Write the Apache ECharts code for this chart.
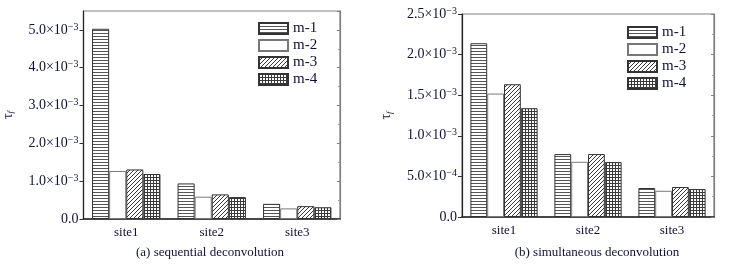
<!DOCTYPE html>
<html><head><meta charset="utf-8">
<script src="https://cdn.jsdelivr.net/npm/echarts@6/dist/echarts.min.js"></script>
<style>html,body{margin:0;padding:0;background:#fff;}#c{width:739px;height:266px;}</style>
</head><body><div id="c"></div>
<script>
const categories = ['site1', 'site2', 'site3'];
const seriesNames = ['m-1', 'm-2', 'm-3', 'm-4'];
// (a) sequential deconvolution
const seqM1 = [5.03e-3, 0.94e-3, 0.40e-3];
const seqM2 = [1.27e-3, 0.59e-3, 0.28e-3];
const seqM3 = [1.31e-3, 0.65e-3, 0.34e-3];
const seqM4 = [1.19e-3, 0.58e-3, 0.31e-3];
// (b) simultaneous deconvolution
const simM1 = [2.14e-3, 0.775e-3, 0.357e-3];
const simM2 = [1.52e-3, 0.68e-3, 0.323e-3];
const simM3 = [1.635e-3, 0.775e-3, 0.369e-3];
const simM4 = [1.34e-3, 0.676e-3, 0.344e-3];
const titleA = '(a) sequential deconvolution';
const titleB = '(b) simultaneous deconvolution';

const FONT = 'Liberation Serif';
const TXT = '#10103a';

function pattern(type) {
  const n = type === 'g' ? 3 : (type === 'h' ? 3 : 4);
  const c = document.createElement('canvas');
  c.width = n; c.height = n;
  const g = c.getContext('2d');
  g.fillStyle = '#fff'; g.fillRect(0, 0, n, n);
  g.fillStyle = '#3a3a3a';
  if (type === 'h') { g.fillStyle = '#555'; g.fillRect(0, 0, n, 1); }
  if (type === 'd') { for (let i = 0; i < n; i++) g.fillRect(i, n - 1 - i, 1, 1); }
  if (type === 'g') { g.fillRect(0, 0, n, 1); g.fillRect(0, 0, 1, n); }
  return { image: c, repeat: 'repeat' };
}
const fills = [pattern('h'), '#ffffff', pattern('d'), pattern('g')];

function fmt(v) {
  if (Math.abs(v) < 1e-12) return '{m|0.0}';
  const s = v.toExponential(1).split('e');
  const e = parseInt(s[1], 10);
  return '{m|' + s[0] + '×10}{s|−' + Math.abs(e) + '}';
}
const richLab = {
  m: { fontFamily: FONT, fontSize: 14, color: TXT, lineHeight: 16 },
  s: { fontFamily: FONT, fontSize: 10, color: TXT, lineHeight: 16, verticalAlign: 'top', padding: [0, 0, 5, 0] }
};
const richName = {
  t: { fontFamily: FONT, fontSize: 14, color: TXT },
  f: { fontFamily: FONT, fontSize: 9, color: TXT, fontStyle: 'italic', padding: [6, 0, 0, 0] }
};

function mainY(grid, max, interval, showMax) {
  return {
    type: 'value', gridIndex: grid, min: 0, max: max, interval: interval,
    name: '{t|τ}{f|f}', nameLocation: 'middle', nameGap: 68,
    nameTextStyle: { rich: richName },
    axisLine: { show: true, lineStyle: { color: '#222', width: 1.2 } },
    axisTick: { show: true, inside: false, length: 4, lineStyle: { color: '#333' } },
    axisLabel: { formatter: fmt, rich: richLab, margin: 5, showMaxLabel: showMax },
    splitLine: { show: false }
  };
}
function frameY(grid, max, interval) {
  return {
    type: 'value', gridIndex: grid, position: 'right', min: 0, max: max, interval: interval,
    axisLine: { show: true, lineStyle: { color: '#808080', width: 1.2 } },
    axisTick: { show: true, inside: true, length: 3, lineStyle: { color: '#808080' } },
    minorTick: { show: true, splitNumber: 2, length: 2, lineStyle: { color: '#a0a0a0' } },
    axisLabel: { show: false }, splitLine: { show: false }
  };
}
function xAx(grid) {
  return {
    type: 'category', gridIndex: grid, data: categories,
    axisLine: { show: true, lineStyle: { color: '#222', width: 1.5 } },
    axisTick: { show: false },
    axisLabel: { fontFamily: FONT, fontSize: 13, color: TXT, margin: 7 }
  };
}
function bars(data, grid, yIdx) {
  return data.map((d, i) => ({
    name: seriesNames[i], type: 'bar', xAxisIndex: grid, yAxisIndex: yIdx, data: d,
    barGap: '0%', barCategoryGap: '20%',
    itemStyle: { color: fills[i], borderColor: i === 1 ? '#777' : '#333', borderWidth: 1 },
    animation: false
  }));
}
function legend(left, top) {
  return {
    orient: 'vertical', left: left, top: top, padding: 0, itemWidth: 29, itemHeight: 11, itemGap: 2,
    icon: 'rect', selectedMode: false,
    textStyle: { fontFamily: FONT, fontSize: 15, color: TXT, lineHeight: 15, padding: [0, 0, 0, 0] },
    data: seriesNames
  };
}

const chart = echarts.init(document.getElementById('c'), null, { renderer: 'canvas' });
chart.setOption({
  animation: false,
  backgroundColor: '#fff',
  title: [
    { text: titleA, left: 205, top: 241, textAlign: 'center', textStyle: { fontFamily: FONT, fontSize: 13, fontWeight: 'normal', color: TXT } },
    { text: titleB, left: 592, top: 241, textAlign: 'center', textStyle: { fontFamily: FONT, fontSize: 13, fontWeight: 'normal', color: TXT } }
  ],
  grid: [
    { left: 80, right: 399, top: 11, bottom: 47, show: true, borderColor: '#808080', borderWidth: 1.2 },
    { left: 462, right: 25, top: 14, bottom: 49, show: true, borderColor: '#808080', borderWidth: 1.2 }
  ],
  legend: [legend(258, 21), legend(627, 25)],
  xAxis: [xAx(0), xAx(1)],
  yAxis: [mainY(0, 5.5e-3, 1e-3, false), frameY(0, 5.5e-3, 1e-3), mainY(1, 2.5e-3, 5e-4, true), frameY(1, 2.5e-3, 5e-4)],
  series: [].concat(bars([seqM1, seqM2, seqM3, seqM4], 0, 0), bars([simM1, simM2, simM3, simM4], 1, 2))
});
</script></body></html>
